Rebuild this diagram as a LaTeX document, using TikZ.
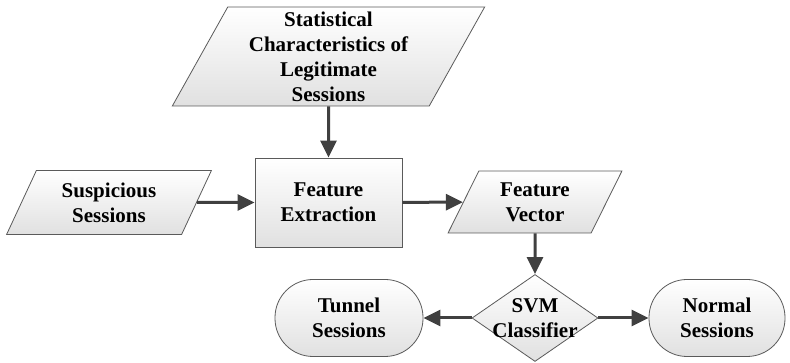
\documentclass[tikz,border=0pt]{standalone}
\usepackage{fontspec}
\setmainfont{Liberation Serif}[BoldFont={Liberation Serif Bold}]
\usetikzlibrary{shapes.geometric,arrows.meta}
\definecolor{linegray}{HTML}{5A5A5A}
\definecolor{arrowgray}{HTML}{404040}
\begin{document}
\begin{tikzpicture}[x=1pt,y=1pt,
        box/.style={draw=linegray, line width=0.8pt, top color=white, bottom color=black!12,
            font=\rmfamily\bfseries\fontsize{21}{25}\selectfont, align=center, inner sep=0pt},
        dataio/.style={box, trapezium, trapezium left angle=64, trapezium right angle=116,
            trapezium stretches=true},
        process/.style={box, rectangle, minimum width=147pt, minimum height=89pt},
        decision/.style={box, diamond, minimum width=126pt, minimum height=87pt},
        terminal/.style={box, rectangle, rounded corners=38pt, minimum height=77pt},
        flow/.style={draw=arrowgray, line width=3pt, -{Triangle[length=17pt,width=16pt]}}]
                \useasboundingbox (0,0) rectangle (790,363);
                \node[dataio, minimum width=313pt, minimum height=99pt] (stat) at (328.5,306.5)
                    {Statistical\\Characteristics of\\Legitimate\\Sessions};
                \node[dataio, minimum width=205pt, minimum height=64pt] (susp) at (109,160.5)
                    {Suspicious\\Sessions};
                \node[process] (feat) at (328.5,160.5) {Feature\\Extraction};
                \node[dataio, minimum width=174pt, minimum height=62pt] (vec) at (535,161)
                    {Feature\\Vector};
                \node[decision, label={[font=\rmfamily\bfseries\fontsize{21}{25}\selectfont, align=center]center:SVM\\Classifier}]
                    (svm) at (535,45) {};
                \node[terminal, minimum width=148pt] (tunnel) at (349,45) {Tunnel\\Sessions};
                \node[terminal, minimum width=136pt] (normal) at (717,45) {Normal\\Sessions};
                \draw[flow] (stat) -- (feat);
                \draw[flow] (susp) -- (feat);
                \draw[flow] (feat) -- (vec);
                \draw[flow] (vec) -- (svm);
                \draw[flow] (svm) -- (tunnel);
                \draw[flow] (svm) -- (normal);
\end{tikzpicture}
\end{document}
